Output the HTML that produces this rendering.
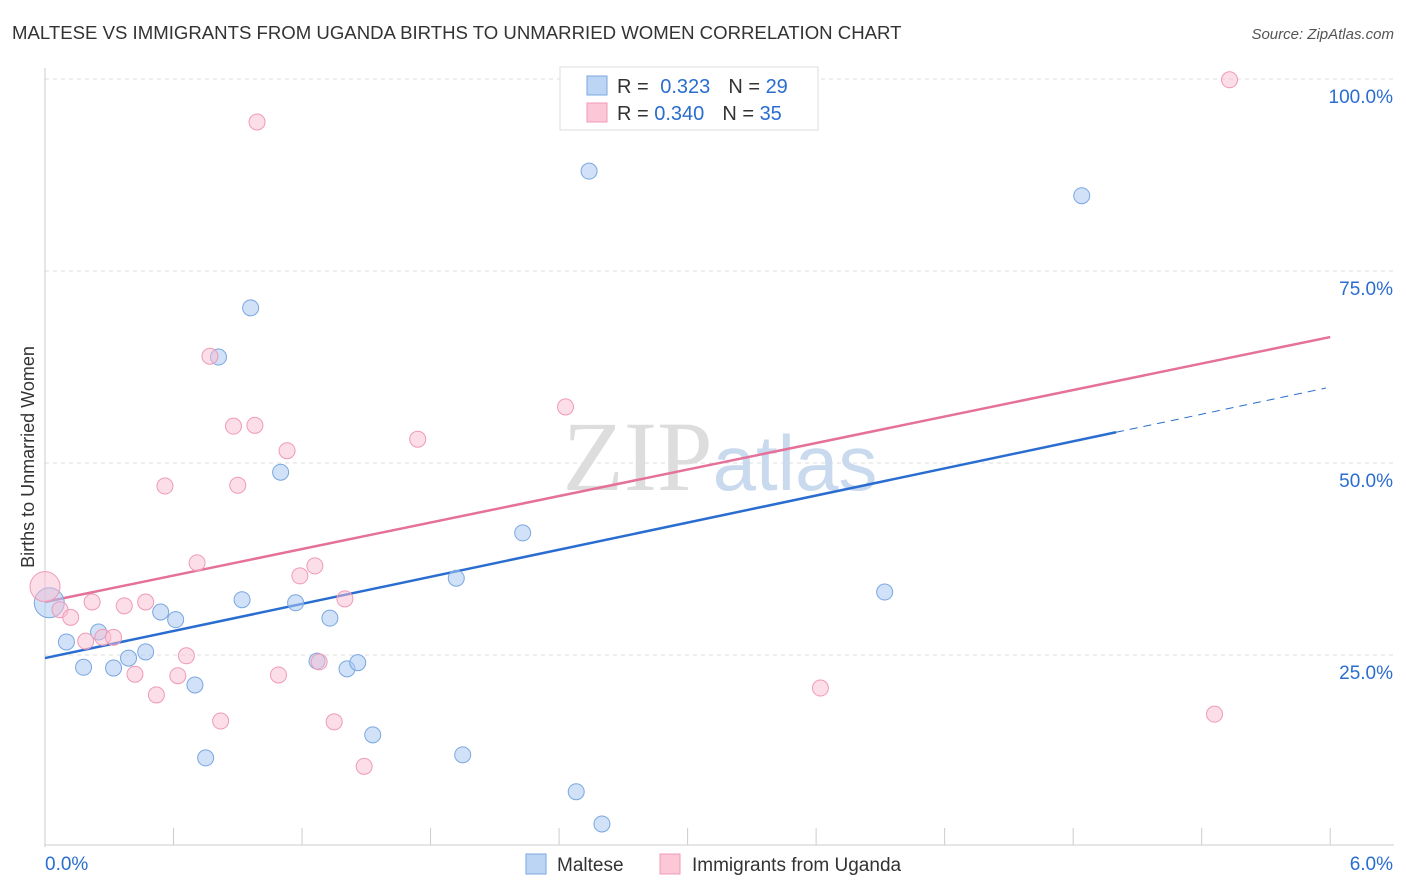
<!DOCTYPE html>
<html><head><meta charset="utf-8"><style>
body{margin:0;background:#fff;font-family:"Liberation Sans",sans-serif;}
svg{display:block}
</style></head><body>
<svg id="chart" width="1406" height="892">
<text x="12" y="39" font-size="18.6" fill="#333">MALTESE VS IMMIGRANTS FROM UGANDA BIRTHS TO UNMARRIED WOMEN CORRELATION CHART</text>
<text x="1394" y="39" font-size="15" fill="#555" font-style="italic" text-anchor="end">Source: ZipAtlas.com</text>
<text x="0" y="0" font-size="18" fill="#333" text-anchor="middle" transform="translate(34,457) rotate(-90)">Births to Unmarried Women</text>
<g id="grid"></g>
<text x="720" y="490" font-size="100" fill="#ddd" text-anchor="middle" font-family="Liberation Serif">ZIP<tspan fill="#c9d9ee" font-family="Liberation Sans" font-size="78">atlas</tspan></text>
<g id="lines"></g>
<g id="points"></g>
<g>
<rect x="560" y="67" width="258" height="63" fill="#fff" stroke="#ddd"/>
<rect x="587" y="76" width="20" height="19" fill="#bcd5f5" stroke="#7aa7e0"/>
<rect x="587" y="103" width="20" height="19" fill="#fcc8d8" stroke="#f09ab5"/>
<text x="617" y="93" font-size="20" fill="#333">R = <tspan fill="#2a6dd0" dx="6">0.323</tspan><tspan dx="18" fill="#333">N = </tspan><tspan fill="#2a6dd0">29</tspan></text>
<text x="617" y="120" font-size="20" fill="#333">R = <tspan fill="#2a6dd0">0.340</tspan><tspan dx="18" fill="#333">N = </tspan><tspan fill="#2a6dd0">35</tspan></text>
</g>
<g>
<rect x="526" y="854" width="20" height="20" fill="#bcd5f5" stroke="#7aa7e0"/>
<text x="557" y="871" font-size="19" fill="#333">Maltese</text>
<rect x="660" y="854" width="20" height="20" fill="#fcc8d8" stroke="#f09ab5"/>
<text x="692" y="871" font-size="19" fill="#333">Immigrants from Uganda</text>
</g>
<text x="45" y="870" font-size="19" fill="#2a6dd0">0.0%</text>
<text x="1393" y="870" font-size="19" fill="#2a6dd0" text-anchor="end">6.0%</text>
</svg>
<script>
const blueX=[0.02,0.10,0.18,0.25,0.32,0.39,0.47,0.54,0.61,0.70,0.75,0.81,0.92,0.96,1.10,1.17,1.27,1.33,1.41,1.46,1.53,1.92,1.95,2.23,2.48,2.54,2.60,3.92,4.84];
const blueY=[31.8,26.7,23.4,28.0,23.3,24.6,25.4,30.6,29.6,21.1,11.6,63.8,32.2,70.2,48.8,31.8,24.2,29.8,23.2,24.0,14.6,35.0,12.0,40.9,7.2,88.0,3.0,33.2,84.8];
const pinkX=[0.0,0.07,0.12,0.19,0.22,0.27,0.32,0.37,0.42,0.47,0.52,0.56,0.62,0.66,0.71,0.77,0.82,0.88,0.90,0.98,0.99,1.09,1.13,1.19,1.26,1.28,1.35,1.40,1.49,1.74,2.43,3.62,5.46,5.53,3.07];
const pinkY=[33.9,30.9,29.9,26.8,31.9,27.3,27.3,31.4,22.5,31.9,19.8,47.0,22.3,24.9,37.0,63.9,16.4,54.8,47.1,54.9,94.4,22.4,51.6,35.3,36.6,24.1,16.3,32.3,10.5,53.1,57.3,20.7,17.3,99.9,100.5];
const yTicks=[25,50,75,100];
const yTickLabels=["25.0%","50.0%","75.0%","100.0%"];
const blueTrend=[24.6,5.88];
const pinkTrend=[31.9,5.75];
const xs=v=>45+v*214.2, ys=v=>847-v*7.68;
const NS="http://www.w3.org/2000/svg";
function mk(t,a,p){const e=document.createElementNS(NS,t);for(const k in a)e.setAttribute(k,a[k]);p.appendChild(e);return e;}
const g=document.getElementById('grid');
yTicks.forEach((t,i)=>{
 const l=mk('line',{x1:45,x2:1394,y1:ys(t),y2:ys(t),stroke:'#ddd','stroke-dasharray':'4,4'},g);
 
 
 const tx=mk('text',{x:1393,y:ys(t)+24,'font-size':19,fill:'#2a6dd0','text-anchor':'end'},g);
 tx.textContent=yTickLabels[i];
 
 
});
const ax=mk('line',{x1:45,x2:45,y1:68,y2:847,stroke:'#ccc'},g);


const bx=mk('line',{x1:45,x2:1394,y1:845,y2:845,stroke:'#ccc'},g);


for(let i=0;i<=10;i++){const t=mk('line',{x1:xs(i*0.6),x2:xs(i*0.6),y1:828,y2:845,stroke:'#ccc'},g);
 
 }
const L=document.getElementById('lines');
let e=mk('line',{x1:xs(0),y1:ys(blueTrend[0]),x2:xs(5.0),y2:ys(blueTrend[0]+blueTrend[1]*5.0),stroke:'#2a6dd0','stroke-width':2.5},L);


e=mk('line',{x1:xs(5.0),y1:ys(blueTrend[0]+blueTrend[1]*5.0),x2:xs(5.98),y2:ys(blueTrend[0]+blueTrend[1]*5.98),stroke:'#2a6dd0','stroke-width':1,'stroke-dasharray':'8,6'},L);


e=mk('line',{x1:xs(0),y1:ys(pinkTrend[0]),x2:xs(6),y2:ys(pinkTrend[0]+pinkTrend[1]*6),stroke:'#e5719a','stroke-width':2.5},L);


const P=document.getElementById('points');
blueX.forEach((x,i)=>{const c=mk('circle',{cx:xs(x),cy:ys(blueY[i]),r:i==0?15:8,fill:'rgba(170,200,242,0.55)',stroke:'#7aa7e0','stroke-width':1},P);
 
 });
pinkX.forEach((x,i)=>{const c=mk('circle',{cx:xs(x),cy:ys(pinkY[i]),r:i==0?15:8,fill:'rgba(250,190,210,0.5)',stroke:'#f09ab5','stroke-width':1},P);
 
 });
</script>
</body></html>
